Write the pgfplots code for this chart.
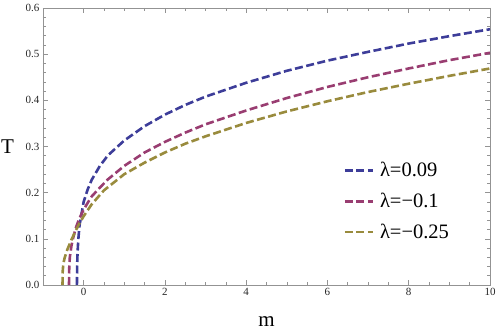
\documentclass[border=0pt]{standalone}
\usepackage{fontspec}
\setmainfont{Liberation Serif}
\usepackage{pgfplots}
\pgfplotsset{compat=1.18}
\definecolor{cblue}{rgb}{0.24,0.24,0.6}
\definecolor{cmag}{rgb}{0.6,0.24,0.442}
\definecolor{cgold}{rgb}{0.6,0.547,0.24}
\begin{document}
\begin{tikzpicture}
\begin{axis}[
    name=ax,
    scale only axis,
    width=447pt, height=277pt,
    xmin=-1, xmax=10, ymin=0, ymax=0.6,
    xtick={0,2,4,6,8,10},
    ytick={0,0.1,0.2,0.3,0.4,0.5,0.6},
    minor x tick num=3,
    minor y tick num=4,
    tick align=inside,
    major tick length=5pt, minor tick length=3pt,
    axis line style={gray!85, line width=0.7pt},
    every tick/.style={gray!85, line width=0.6pt},
    /pgf/number format/assume math mode=true,
    yticklabel style={/pgf/number format/.cd, fixed, fixed zerofill, precision=1},
    tick label style={font=\fontsize{11}{13}\selectfont, black!85},
    xlabel={m}, ylabel={T},
    label style={font=\fontsize{21}{24}\selectfont},
    xlabel style={yshift=-14pt},
    ylabel style={rotate=-90, xshift=-5pt},
    legend cell align=left,
    legend style={at={(rel axis cs:0.665,0.458)}, anchor=north west, draw=none, fill=none,
        font=\fontsize{20.5}{23}\selectfont, row sep=11pt,
        /tikz/every odd column/.append style={column sep=4pt}},
    legend image code/.code={\draw[#1] (0pt,0pt) -- (28pt,0pt);},
    every axis plot/.append style={line width=2.6pt, dash pattern=on 8pt off 3.5pt},
]
\addplot[cblue] coordinates {
(-0.165,0) (-0.16,0.04) (-0.15,0.07) (-0.13,0.1) (-0.1,0.13) (-0.05,0.155)
(0,0.18) (0.1,0.207) (0.2,0.228) (0.4,0.258) (0.6,0.281) (1,0.313) (1.5,0.344)
(2,0.369) (2.5,0.39) (3,0.408) (4,0.438) (5,0.464) (6,0.486) (7,0.505)
(8,0.523) (9,0.539) (10,0.554)};
\addlegendentry{λ=0.09}
\addplot[cmag] coordinates {
(-0.36,0) (-0.355,0.035) (-0.34,0.06) (-0.3,0.085) (-0.25,0.105) (-0.18,0.127)
(-0.1,0.145) (0,0.163) (0.1,0.178) (0.2,0.192) (0.4,0.211) (0.6,0.229) (1,0.258)
(1.5,0.287) (2,0.31) (2.5,0.33) (3,0.348) (4,0.378) (5,0.405) (6,0.429)
(7,0.45) (8,0.469) (9,0.487) (10,0.503)};
\addlegendentry{λ=−0.1}
\addplot[cgold] coordinates {
(-0.52,0) (-0.515,0.03) (-0.5,0.045) (-0.47,0.058) (-0.4,0.077) (-0.3,0.098)
(-0.2,0.117) (-0.1,0.134) (0,0.149) (0.2,0.175) (0.5,0.205) (1,0.24) (1.5,0.265)
(2,0.287) (2.5,0.306) (3,0.322) (4,0.351) (5,0.376) (6,0.398) (7,0.418)
(8,0.436) (9,0.453) (10,0.469)};
\addlegendentry{λ=−0.25}
\end{axis}
\pgfresetboundingbox
\path ([shift={(-43pt,-45pt)}]ax.south west) rectangle ([shift={(8pt,8pt)}]ax.north east);
\end{tikzpicture}
\end{document}
